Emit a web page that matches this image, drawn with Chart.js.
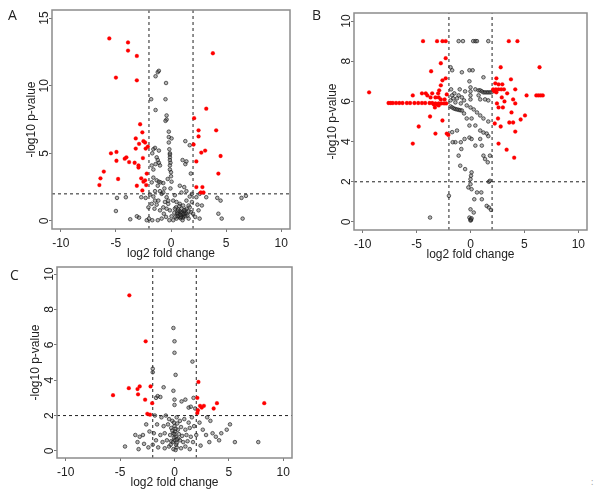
<!DOCTYPE html>
<html>
<head>
<meta charset="utf-8">
<script src="https://cdn.jsdelivr.net/npm/chart.js@4.4.1/dist/chart.umd.min.js"></script>
<style>
body { margin: 0; background: #fff; }
#wrap { position: relative; width: 601px; height: 495px; overflow: hidden; }
.panel { position: absolute; }
.tag { position: absolute; font-family: "Open Sans", sans-serif; font-size: 14px; line-height: 14px; color: #222; }
</style>
</head>
<body>
<div id="wrap">
  <div class="panel" style="left:0;top:0;"><canvas id="chartA" width="300" height="265"></canvas></div>
  <div class="panel" style="left:300px;top:0;"><canvas id="chartB" width="301" height="265"></canvas></div>
  <div class="panel" style="left:0;top:254px;"><canvas id="chartC" width="300" height="241"></canvas></div>
  <div class="tag" style="left:8px;top:8px;">A</div>
  <div class="tag" style="left:312px;top:8px;">B</div>
  <div class="tag" style="left:10px;top:268px;">C</div>
  <div class="tag" style="left:591px;top:475px;font-size:9px;color:#999;">:</div>
</div>
<script>
// thresholds
var foldCut = [-2, 2];
var pCut = 2;

// axis ticks
var xTicks = [-10, -5, 0, 5, 10];
var yTicksA = [0, 5, 10, 15];
var yTicksBC = [0, 2, 4, 6, 8, 10];

// panel A  [log2 fold change, -log10 p]
var redA = [
  [-5.6,13.5],[-3.9,13.2],[-3.9,12.6],[-3.1,12.2],[3.8,12.4],[-5.0,10.6],[-3.1,10.4],[3.2,8.3],
  [2.1,7.6],[-2.8,7.15],[-2.6,6.55],[2.5,6.7],[4.1,6.7],[2.5,6.25],[-3.2,6.1],[-2.5,5.9],
  [-2.35,5.8],[-2.9,5.7],[-2.1,5.5],[2.05,5.65],[-3.2,5.35],[-2.3,5.35],[-5.45,5.0],[-4.95,5.1],
  [3.1,5.2],[2.75,5.05],[4.5,4.8],[-4.2,4.6],[-4.05,4.7],[-4.95,4.45],[-3.8,4.35],[-3.3,4.3],
  [-2.95,4.1],[-2.95,3.95],[-2.55,4.65],[2.3,4.4],[-6.1,3.65],[-6.4,3.15],[-6.5,2.65],[-4.8,3.1],
  [-2.7,3.15],[-2.35,3.0],[-2.5,2.9],[-3.1,2.6],[-2.25,2.65],[-2.6,2.25],[4.3,3.5],[2.3,2.5],
  [2.85,2.5],[2.7,2.1],[2.95,2.1],[-2.2,3.5]
];
var greyA = [
  [-1.2,11.0],[-1.1,11.1],[-1.4,10.7],[-0.45,10.2],[-1.8,9.0],[-0.5,9.0],[-1.4,8.2],[-0.4,7.8],
  [-0.4,7.5],[-0.5,7.4],[-0.2,6.6],[-0.2,6.2],[0.05,6.1],[1.3,5.9],[1.7,5.6],[-0.15,5.3],
  [-1.45,5.4],[-1.6,5.3],[-1.1,5.2],[-1.7,5.0],[-0.1,5.0],[-0.1,4.9],[-0.1,4.7],[-0.1,4.5],
  [-0.05,4.3],[-0.1,4.1],[-0.1,3.8],[0,3.6],[0,3.3],[-1.3,4.7],[-1.2,4.5],[-1.1,4.3],
  [-1.4,4.2],[-1.75,4.1],[-1.6,3.8],[-1.0,4.1],[1.05,4.5],[1.3,4.2],[1.4,4.4],[1.8,3.5],
  [-1.6,3.2],[-1.3,3.0],[-1.1,2.9],[-0.95,2.85],[-0.7,2.8],[0.05,2.9],[-1.75,2.85],[0.8,2.6],
  [-1.45,2.2],[-1.0,2.2],[-0.85,2.0],[-0.7,2.1],[-1.9,1.95],[-1.6,1.8],[-0.4,1.75],[0.35,1.9],
  [0.95,2.1],[1.4,2.2],[1.9,2.0],[1.7,1.8],[2.3,1.75],[3.2,1.75],[4.2,1.7],[4.5,1.5],
  [6.4,1.7],[6.8,1.85],[-4.9,1.7],[-4.1,1.75],[-2.7,1.75],[-2.3,1.7],[-5.0,0.73],[-3.7,0.12],
  [-3.1,0.34],[-2.9,0.24],[-2.2,0.05],[-1.5,0.9],[-1.3,1.2],[-2.0,0.17],[-1.7,0.05],[-1.2,0.05],
  [-0.85,0.17],[-0.65,0.53],[-0.4,0.9],[-0.25,1.26],[-0.1,0.78],[0.05,0.34],[0.2,0.05],[0.45,1.0],
  [0.65,0.53],[0.8,0.73],[0.95,0.41],[1.1,0.24],[1.3,0.78],[1.4,0.53],[1.6,0.17],[1.7,1.0],
  [1.9,1.4],[2.0,0.53],[2.2,0.29],[2.5,0.78],[2.6,0.17],[2.8,1.14],[4.3,0.53],[4.6,0.17],
  [6.5,0.17],[0.2,1.5],[0.5,1.4],[0.8,1.26],[1.1,1.14],[1.4,1.5],[0.35,0.9],[0.65,0.83],
  [0.95,0.9],[1.2,0.65],[1.05,0.05],[0.75,0.29],[0.5,0.17],[-0.25,1.5],[-0.55,1.4],[-1.15,1.5],
  [-1.45,1.5],[-1.75,1.26],[-2.05,1.0],[-1.0,0.78],[-0.7,1.0],[-0.45,0.29],[-0.15,0.05],[1.4,0.9],
  [1.8,0.65],[1.6,1.14],[2.4,1.2],[0.9,0.6],[1.0,0.45],[1.15,0.35],[0.6,0.7],[1.25,0.5],
  [0.85,0.2],[-0.3,3.1],[-0.05,2.4],[-0.6,2.4],[1.2,2.5],[2.6,2.0],[-1.2,2.6],[-0.2,5.8],
  [0.7,0.4],[0.55,0.55],[1.3,0.35],[0.9,0.3],[1.5,0.4],[0.3,0.6],[0.4,0.3],[1.2,0.8],
  [0.75,1.1],[1.6,0.7],[1.0,0.6],[0.6,0.35],[1.1,0.5],[0.85,0.45]
];

// panel B
var redB = [
  [-4.4,9],[-3.1,9],[-2.6,9],[-2.3,9],[3.55,9],[4.35,9],
  [-2.3,8.15],[-2.75,7.9],[2.8,7.7],[6.4,7.7],[-3.65,7.5],[-2.3,7.15],[-2.6,7.05],[2.4,7.15],
  [3.75,7.1],[-2.75,6.8],[2.3,6.9],[2.6,6.85],[2.95,6.85],
  [2.1,6.6],[2.35,6.6],[2.6,6.6],[2.85,6.6],[3.1,6.6],[4.15,6.6],[2.2,6.5],[2.4,6.45],
  [-9.4,6.45],[-4.5,6.4],[-4.15,6.4],[-3.55,6.4],[-3.0,6.4],[-5.35,6.3],[-4.0,6.3],[-3.7,6.2],
  [-3.25,6.2],[-2.95,6.2],[-2.75,6.1],[-2.4,6.1],[-2.9,6.55],[-2.2,6.35],
  [5.2,6.3],[6.1,6.3],[6.3,6.3],[6.5,6.3],[6.7,6.3],[3.95,6.1],[3.15,6.0],[2.9,6.2],[3.4,6.4],
  [-7.6,5.92],[-7.4,5.92],[-7.2,5.92],[-6.9,5.92],[-6.6,5.92],[-6.3,5.92],[-5.9,5.92],[-5.6,5.92],
  [-5.2,5.92],[-4.85,5.92],[-4.5,5.92],[-4.2,5.92],[-3.8,5.92],[-3.55,5.92],[-3.25,5.9],[-2.95,5.9],
  [-2.7,5.9],[-2.45,5.9],[-2.25,5.9],[-3.4,5.85],[-3.1,5.85],
  [-3.3,5.7],[-2.95,5.8],[2.45,5.9],[4.15,5.9],[2.6,5.7],[-3.75,5.25],[3.0,5.7],[3.8,5.45],
  [5.05,5.3],[4.65,5.1],[-2.6,5.05],[2.55,5.15],[2.25,4.9],[3.6,4.95],[3.95,4.95],[-4.8,4.75],
  [2.8,4.75],[-3.25,4.4],[-2.2,4.4],[-2.05,4.33],[4.15,4.5],[2.6,3.9],[-5.35,3.9],[3.35,3.6],
  [4.05,3.2]
];
var greyB = [
  [-1.1,9],[-0.7,9],[0.25,9],[0.45,9],[0.6,9],[1.65,9],
  [-1.85,7.7],[-1.7,7.55],[-0.8,7.45],[-0.1,7.55],[0.2,7.55],[1.2,7.2],[-0.1,7.0],
  [0,6.7],[0,6.5],[0,6.3],[0,6.1],[0.45,6.6],[0.75,6.55],
  [0.9,6.55],[1.05,6.5],[1.2,6.45],[1.35,6.45],[1.5,6.45],[1.65,6.45],[1.8,6.45],[1.95,6.45],
  [-1.85,5.75],[-1.7,5.7],[-1.55,5.65],[-1.4,5.62],[-1.25,5.6],[-1.1,5.58],[-0.95,5.56],[-0.8,5.55],
  [-1.8,6.6],[-1.5,6.4],[-1.1,6.3],[-0.8,6.2],[-1.25,6.15],[-1.6,6.15],[-1.85,6.05],[-1.4,5.95],
  [-0.9,5.9],[-0.6,6.05],[-1.7,6.3],[-1.0,6.6],[-0.5,6.5],
  [0.75,6.3],[0.9,6.1],[1.35,6.1],[1.65,6.05],
  [-0.35,5.8],[0,5.7],[0.3,5.6],[0.6,5.45],[0.9,5.3],[1.2,5.15],[1.65,5.0],
  [-0.6,5.4],[-0.35,5.15],[0.1,5.15],[0.45,4.8],[0.9,4.55],[1.2,4.45],[1.5,4.4],[1.65,4.27],
  [-1.7,4.47],[-1.25,4.55],[-0.9,3.97],[-1.4,3.97],[-1.65,3.97],
  [-0.1,4.8],[-0.1,4.2],[0.1,4.13],[0.9,4.13],[1.05,3.8],
  [-0.85,3.63],[-1.1,3.3],[-0.95,2.8],[-0.5,2.63],
  [1.2,3.3],[1.6,2.97],[1.35,3.13],[1.8,3.3],[0.45,3.8],[-0.55,4.13],
  [0.1,2.47],[0.05,2.3],[0,2.13],[0,1.88],
  [-0.2,1.72],[0.1,1.63],[0.6,1.47],[1.0,1.47],
  [0.35,1.13],[1.05,1.13],[1.7,2.0],[1.8,2.05],
  [1.5,0.8],[1.7,0.72],[1.9,0.6],
  [0,0.63],[0.3,0.47],
  [-0.1,0.22],[0,0.13],[0.05,0.1],[0,0.07],[0.1,0.18],
  [-3.75,0.22],[-2.0,1.3]
];

// panel C
var redC = [
  [-4.15,8.8],[-2.65,6.2],[-5.65,3.15],[-4.2,3.55],[-3.2,3.65],[-3.4,3.5],[-3.35,3.2],[-2.2,3.65],
  [-2.7,2.9],[-2.05,2.7],[-2.5,2.1],[-2.25,2.05],[2.2,3.9],[2.1,3.0],[2.35,2.55],[2.5,2.45],
  [2.7,2.55],[2.15,2.3],[2.1,2.15],[3.9,2.7],[3.6,2.4],[8.25,2.7]
];
var greyC = [
  [-0.1,6.95],[0,6.2],[0,5.55],[1.65,5.05],[0.1,4.3],[-2.0,4.65],[-2.0,4.45],[-1.0,3.6],
  [-1.55,3.1],[-1.7,3.0],[-1.3,3.05],[-0.1,3.4],[0,2.9],[0,2.6],[0.65,2.8],[1.3,2.45],
  [1.75,3.0],[1.9,2.4],[1.5,2.5],[1.0,2.9],
  [-1.8,2.0],[-1.2,1.9],[-0.8,2.0],[-0.5,1.8],[-0.2,1.7],[0.2,1.9],[0.5,1.7],[0.9,1.8],
  [1.3,1.6],[1.6,1.9],[-1.6,1.5],[-1.0,1.4],[-0.6,1.5],[-0.3,1.3],[0,1.4],[0.3,1.2],
  [0.6,1.35],[1.0,1.2],[1.4,1.3],[1.8,1.4],[-1.9,1.0],[-1.3,0.9],[-0.9,1.0],[-0.4,0.9],
  [-0.1,1.0],[0.1,0.8],[0.4,0.95],[0.7,0.85],[1.1,0.9],[1.5,0.8],[2.0,0.9],[-1.7,0.6],
  [-1.1,0.5],[-0.7,0.6],[-0.3,0.55],[0,0.6],[0.2,0.45],[0.5,0.6],[0.8,0.5],[1.2,0.55],
  [1.7,0.5],[-1.5,0.2],[-0.9,0.15],[-0.5,0.25],[-0.1,0.1],[0.2,0.2],[0.6,0.15],[1.0,0.25],
  [1.4,0.1],[-2.0,0.35],[-2.4,0.2],[0.05,1.1],[-0.05,0.75],[0.15,0.35],[0.25,1.55],[-0.2,1.15],
  [0.35,0.7],[-0.35,0.35],[0.1,1.25],[0.0,0.95],[-0.15,0.5],[0.2,0.65],[0.1,0.05],[-0.05,1.6],
  [-2.6,1.5],[-2.9,0.9],[-3.2,0.8],[-3.6,0.9],[-3.4,0.5],[-3.3,0.1],[-4.55,0.25],[-2.3,1.1],
  [-2.8,0.4],[2.3,1.6],[2.6,1.2],[2.9,0.9],[3.2,0.5],[3.5,1.0],[3.8,0.8],[4.1,0.6],
  [4.8,1.2],[5.1,1.5],[5.55,0.5],[7.7,0.5],[3.0,1.9],[2.4,0.3],[4.3,1.0],[3.3,1.7]
];

var font = { family: '"Liberation Sans", Arial, sans-serif', size: 12 };

var boxPlugin = {
  id: 'box',
  afterDraw: function (chart) {
    var a = chart.chartArea, ctx = chart.ctx;
    ctx.save();
    ctx.strokeStyle = '#8c8c8c';
    ctx.lineWidth = 1.5;
    ctx.strokeRect(a.left, a.top, a.right - a.left, a.bottom - a.top);
    ctx.restore();
  }
};

function pts(arr) {
  return arr.map(function (p) { return { x: p[0], y: p[1] }; });
}

function cutLine(data) {
  return {
    type: 'line', data: data, borderColor: '#222', borderWidth: 1,
    borderDash: [3, 3], pointRadius: 0, fill: false, order: 3
  };
}

function makePanel(id, grey, red, xr, yr, yTicks, yWidth, yTitlePad, pad) {
  var ctx = document.getElementById(id).getContext('2d');
  var yStep = yTicks[1] - yTicks[0];
  var xStep = xTicks[1] - xTicks[0];
  var sets = [{
    label: 'sig', data: pts(red), pointRadius: 1.9, pointBackgroundColor: '#ff0000',
    pointBorderColor: '#f00', pointBorderWidth: 0.3, order: 1
  }, {
    label: 'ns', data: pts(grey), pointRadius: 1.8, pointBackgroundColor: 'rgba(90,90,90,0.45)',
    pointBorderColor: 'rgba(20,20,20,0.8)', pointBorderWidth: 0.8, order: 2
  }];
  foldCut.forEach(function (v) {
    sets.push(cutLine([{ x: v, y: yr[0] }, { x: v, y: yr[1] }]));
  });
  sets.push(cutLine([{ x: xr[0], y: pCut }, { x: xr[1], y: pCut }]));

  return new Chart(ctx, {
    type: 'scatter',
    data: { datasets: sets },
    plugins: [boxPlugin],
    options: {
        responsive: false,
        animation: false,
        devicePixelRatio: 1,
        layout: { padding: pad },
        plugins: { legend: { display: false }, tooltip: { enabled: false } },
        scales: {
            x: {
                type: 'linear', min: xr[0], max: xr[1],
                border: { display: false },
                grid: { drawOnChartArea: false, tickLength: 3, color: '#777' },
                ticks: { stepSize: xStep, includeBounds: false, padding: 4, color: '#222', font: font, maxRotation: 0 },
                title: { display: true, text: 'log2 fold change', color: '#222', font: font, padding: { top: 0, bottom: 0 } },
                afterFit: function (s) { s.height = 32; }
            },
            y: {
                min: yr[0], max: yr[1],
                border: { display: false },
                grid: { drawOnChartArea: false, tickLength: 3, color: '#777' },
                ticks: { stepSize: yStep, includeBounds: false, minRotation: 90, maxRotation: 90,
                         crossAlign: 'center', padding: -2, color: '#222', font: font },
                title: { display: true, text: '-log10 p-value', color: '#222', font: font, padding: { top: yTitlePad, bottom: 0 } },
                afterFit: function (s) { s.width = yWidth; }
            }
        }
    }
  });
}

makePanel('chartA', greyA, redA, [-10.8, 10.8], [-0.6, 15.6], yTicksA, 52, 24,
  { left: 0, top: 10, right: 10, bottom: 4 });
makePanel('chartB', greyB, redB, [-10.8, 10.8], [-0.4, 10.4], yTicksBC, 54, 25,
  { left: 0, top: 13, right: 14, bottom: 3 });
makePanel('chartC', greyC, redC, [-10.8, 10.8], [-0.4, 10.4], yTicksBC, 57, 28,
  { left: 0, top: 13, right: 8, bottom: 5 });
</script>
</body>
</html>
